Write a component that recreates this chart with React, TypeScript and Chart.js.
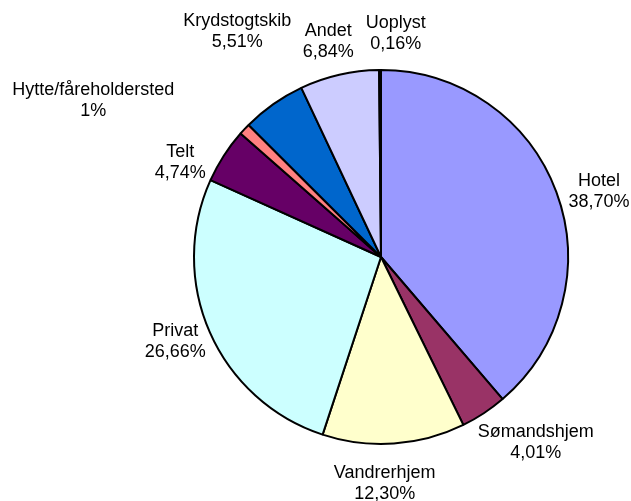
import React, { useEffect, useRef } from "react";
import { Chart, registerables } from "chart.js";

Chart.register(...registerables);

const categories = [
  "Hotel",
  "Sømandshjem",
  "Vandrerhjem",
  "Privat",
  "Telt",
  "Hytte/fåreholdersted",
  "Krydstogtskib",
  "Andet",
  "Uoplyst",
];
const shares = [38.7, 4.01, 12.3, 26.66, 4.74, 1, 5.51, 6.84, 0.16];
const sliceColors = [
  "#9999FF",
  "#993366",
  "#FFFFCC",
  "#CCFFFF",
  "#660066",
  "#FF8080",
  "#0066CC",
  "#CCCCFF",
  "#000000",
];
// manual label nudges (px) relative to the automatic outside position
const labelNudgeX = [5, 30, -12, 2, -10, -122, -13, -2, 16];
const labelNudgeY = [13, -4, 0, -7, 28, -1, -40, 6, 4];

const fmtPct = (v: number) =>
  Number.isInteger(v) ? `${v}%` : `${v.toFixed(2).replace(".", ",")}%`;

const labelPlugin = {
  id: "outsideLabels",
  afterDatasetsDraw(chart: any) {
    const ctx = chart.ctx;
    const meta = chart.getDatasetMeta(0);
    ctx.save();
    ctx.font = '18px "Liberation Sans", Arial, sans-serif';
    ctx.fillStyle = "#000000";
    ctx.textAlign = "center";
    ctx.textBaseline = "middle";
    meta.data.forEach((arc: any, i: number) => {
      const { x, y, startAngle, endAngle, outerRadius } = arc.getProps(
        ["x", "y", "startAngle", "endAngle", "outerRadius"],
        true
      );
      const mid = (startAngle + endAngle) / 2;
      const d = outerRadius + 40;
      const cx = x + Math.cos(mid) * d + labelNudgeX[i];
      const cy = y + Math.sin(mid) * d + labelNudgeY[i];
      ctx.fillText(categories[i], cx, cy - 10.5);
      ctx.fillText(fmtPct(shares[i]), cx, cy + 10.5);
    });
    ctx.restore();
  },
};

export default function App() {
  const ref = useRef<HTMLCanvasElement | null>(null);
  useEffect(() => {
    if (!ref.current) return;
    const chart = new Chart(ref.current, {
      type: "pie",
      data: {
        labels: categories,
        datasets: [
          {
            data: shares,
            backgroundColor: sliceColors,
            borderColor: "#000000",
            borderWidth: 2,
          },
        ],
      },
      options: {
        responsive: false,
        animation: false,
        radius: 187,
        layout: { padding: { left: 131, top: 13, right: 0, bottom: 0 } },
        plugins: {
          legend: { display: false },
          tooltip: { enabled: false },
        },
      } as any,
      plugins: [labelPlugin],
    });
    return () => chart.destroy();
  }, []);
  return (
    <div
      style={{
        position: "absolute",
        left: 0,
        top: 0,
        width: 631,
        height: 501,
        background: "#ffffff",
      }}
    >
      <canvas ref={ref} width={631} height={501} />
    </div>
  );
}
